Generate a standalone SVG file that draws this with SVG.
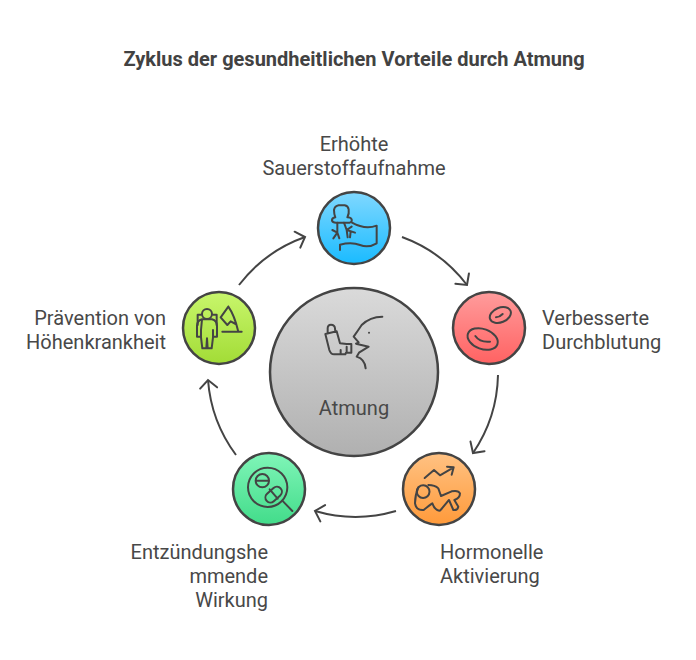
<svg xmlns="http://www.w3.org/2000/svg" width="696" height="660" viewBox="0 0 696 660">
<style>
text{font-family:Roboto,"Liberation Sans",sans-serif;font-size:20px;fill:#484848}
.title{font-weight:700;fill:#424242}
.e{text-anchor:end}.m{text-anchor:middle}
.ring{stroke:#444;stroke-width:2.5}
.conn{fill:none;stroke:#444;stroke-width:2;marker-end:url(#arrow)}
.ic{fill:none;stroke:#444;stroke-width:6;stroke-linecap:round;stroke-linejoin:round}
</style>
<defs>
<marker id="arrow" markerUnits="userSpaceOnUse" markerWidth="24" markerHeight="24" refX="12" refY="12" orient="auto"><path d="M4 3.500L12 12L4 20.500" fill="none" stroke="#444" stroke-width="2" stroke-linecap="round"/></marker>
<linearGradient id="gc" x1="0" y1="0" x2="0" y2="1"><stop offset="0" stop-color="#dadada"/><stop offset="1" stop-color="#b0b0b0"/></linearGradient>
<linearGradient id="g1" x1="0" y1="0" x2="0" y2="1"><stop offset="0" stop-color="#80d8ff"/><stop offset="1" stop-color="#1abbff"/></linearGradient>
<linearGradient id="g2" x1="0" y1="0" x2="0" y2="1"><stop offset="0" stop-color="#ff9c9c"/><stop offset="1" stop-color="#ff6262"/></linearGradient>
<linearGradient id="g3" x1="0" y1="0" x2="0" y2="1"><stop offset="0" stop-color="#ffc283"/><stop offset="1" stop-color="#ff9a3a"/></linearGradient>
<linearGradient id="g4" x1="0" y1="0" x2="0" y2="1"><stop offset="0" stop-color="#80f5b8"/><stop offset="1" stop-color="#42dc8a"/></linearGradient>
<linearGradient id="g5" x1="0" y1="0" x2="0" y2="1"><stop offset="0" stop-color="#c8f66c"/><stop offset="1" stop-color="#a2dc36"/></linearGradient>
</defs>
<rect width="696" height="660" fill="#fff"/>
<text class="title m" x="354" y="66">Zyklus der gesundheitlichen Vorteile durch Atmung</text>
<g id="connectors">
<path class="conn" d="M402 237A143.500 143.500 0 0 1 467 285"/>
<path class="conn" d="M498 375A144 144 0 0 1 473 453"/>
<path class="conn" d="M396 511A145 145 0 0 1 315 511"/>
<path class="conn" d="M236 455A144 144 0 0 1 208 380"/>
<path class="conn" d="M239 285A144 144 0 0 1 305 237"/>
</g>
<g id="center">
<circle class="ring" cx="354" cy="372" r="84" fill="url(#gc)"/>
<g transform="translate(310 310) scale(.33333)" class="ic">
<path d="M53 70V55Q53 44 63 44Q74 44 75 55L76 66M46 72L80 64L90 100L110 102H124V128H108L106 133H72Q62 133 58 120ZM92 120V131M110 110V126"/>
<path d="M217 20Q180 20 155 45Q145 60 131 80L146 97L138 101L176 110L147 128L140 140Q165 148 167 175"/>
<path d="M177 68h.1"/>
</g>
<text class="m" x="354" y="415">Atmung</text>
</g>
<g id="node-1">
<circle class="ring" cx="354" cy="228" r="36" fill="url(#g1)"/>
<g transform="translate(300 180) scale(.33333)" class="ic">
<path d="M106 112Q95 114 96 122Q98 128 108 128H148Q157 126 155 118Q152 112 142 112Q148 100 146 88Q144 78 134 76H116Q104 78 102 90Q102 102 106 112Z"/>
<path d="M112 128V158M97 150L112 158L100 175M112 158L118 175M132 128L140 150L143 172M140 150L155 140M140 150L165 158M150 172L152 155"/>
<path d="M156 128Q195 150 230 137V190Q205 205 180 195Q155 185 120 194V210"/>
</g>
<text class="m" x="354" y="151">Erhöhte</text>
<text class="m" x="354" y="175">Sauerstoffaufnahme</text>
</g>
<g id="node-2">
<circle class="ring" cx="489" cy="328" r="36" fill="url(#g2)"/>
<g transform="translate(430 280) scale(.33333)" class="ic">
<ellipse cx="211" cy="105" rx="33" ry="22" transform="rotate(-22 211 105)"/>
<path d="M198 112Q208 112 218 102"/>
<ellipse cx="158" cy="177" rx="47" ry="30" transform="rotate(20 158 177)"/>
<path d="M136 168Q150 188 180 185"/>
</g>
<text x="542" y="325">Verbesserte</text>
<text x="542" y="349">Durchblutung</text>
</g>
<g id="node-3">
<circle class="ring" cx="439" cy="489" r="36" fill="url(#g3)"/>
<g transform="translate(385 440) scale(.33333)" class="ic">
<path d="M119 114L147 90L165 106L206 82M186 80L206 82L200 104"/>
<path d="M115 136A19 19 0 1 1 114 174A19 19 0 0 1 115 136Z"/>
<path d="M100 142Q90 165 90 190Q94 212 116 210Q134 195 142 190Q150 212 165 212Q180 195 192 180L205 210Q218 212 220 200L208 180Q225 175 225 160Q220 150 200 154L168 168L160 145Q150 135 130 135"/>
</g>
<text x="440" y="559">Hormonelle</text>
<text x="440" y="583">Aktivierung</text>
</g>
<g id="node-4">
<circle class="ring" cx="269" cy="489" r="36" fill="url(#g4)"/>
<g transform="translate(215 440) scale(.33333)" class="ic">
<circle cx="158" cy="142" r="59"/>
<path d="M202 182L232 213"/>
<circle cx="142" cy="122" r="20"/>
<path d="M124 122H160"/>
<rect x="148" y="149" width="56" height="30" rx="15" transform="rotate(-42 176 164)"/>
<path d="M164 148L188 176"/>
</g>
<text class="e" x="268" y="559">Entzündungshe</text>
<text class="e" x="268" y="583">mmende</text>
<text class="e" x="268" y="607">Wirkung</text>
</g>
<g id="node-5">
<circle class="ring" cx="219" cy="328" r="36" fill="url(#g5)"/>
<g transform="translate(165 280) scale(.33333)" class="ic">
<circle cx="126" cy="102" r="15"/>
<path d="M111 118H141Q156 122 156 138V170H144V150M144 150V172L140 205H128L126 175L124 205H112L108 172V150M108 150V170H96V138Q96 122 111 118Z"/>
<path d="M108 104H98V135M144 104H155V135"/>
<path d="M190 80L167 112L187 135L197 124L212 132M190 80Q208 105 220 155M172 155H230"/>
</g>
<text class="e" x="166" y="325">Prävention von</text>
<text class="e" x="166" y="349">Höhenkrankheit</text>
</g>
</svg>
